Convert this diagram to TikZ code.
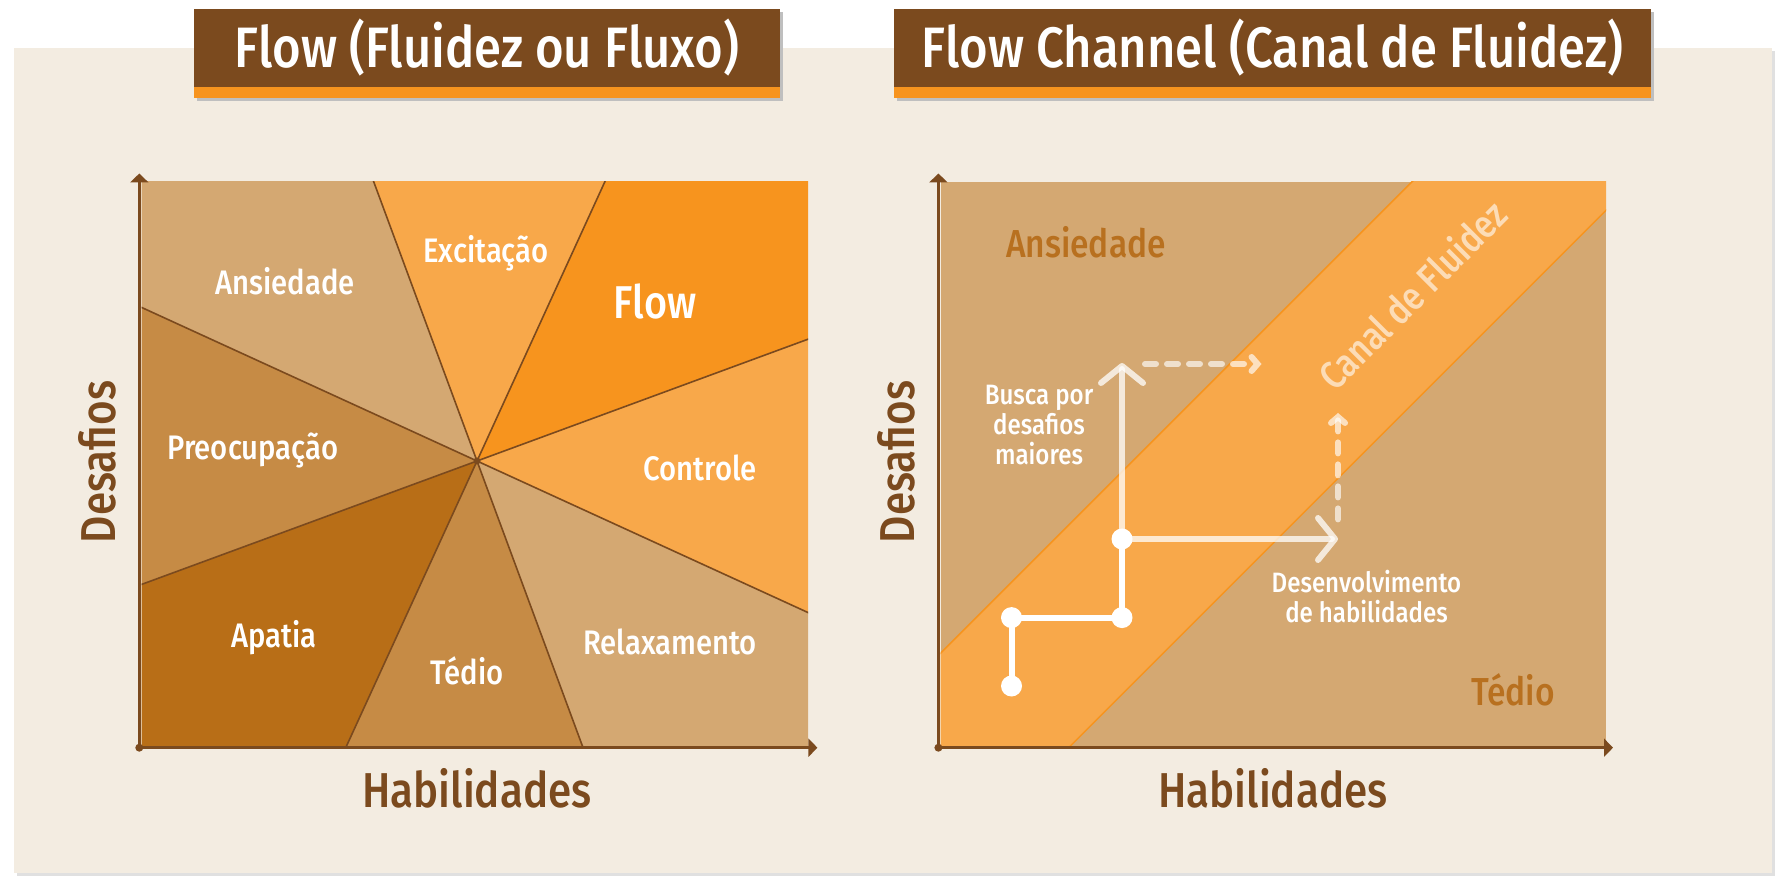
\documentclass[tikz,border=0pt]{standalone}
\usepackage{fontspec}
\setmainfont{Fira Sans Medium}[FakeStretch=0.86]
\usepackage{xcolor}
\usetikzlibrary{arrows.meta,positioning,backgrounds}

\definecolor{barbrown}{HTML}{7B4A1E}
\definecolor{barorange}{HTML}{F7941E}
\definecolor{panelbg}{HTML}{F3ECE1}
\definecolor{zonetan}{HTML}{D4A872}
\definecolor{zonelight}{HTML}{F8A84A}
\definecolor{zonemid}{HTML}{C68B45}
\definecolor{zonedark}{HTML}{B86E17}
\definecolor{zonetext}{HTML}{B8701F}

\tikzset{
  titlebox/.style={rectangle, fill=barbrown, text=white, inner sep=0pt,
    minimum height=78pt, font=\fontsize{57}{60}\selectfont},
  wedgelabel/.style={text=white, font=\fontsize{34}{40}\selectfont},
  zonelabel/.style={text=zonetext, font=\fontsize{39}{44}\selectfont},
  axislabel/.style={text=barbrown, font=\fontsize{49}{56}\selectfont},
  axisline/.style={draw=barbrown, line width=3pt, -{Triangle[length=9pt,width=18pt]}},
  sepline/.style={draw=barbrown, line width=1.6pt},
  dot/.style={circle, fill=white, inner sep=0pt, minimum size=21pt},
  route/.style={draw=white, line width=6pt, line cap=round, line join=round},
  routelabel/.style={text=white, align=center, font=\fontsize{28}{30}\selectfont},
}

\begin{document}
\begin{tikzpicture}[x=1pt, y=1pt]

    \useasboundingbox[fill=white] (0,0) rectangle (1790,892);

    % Panel
    \fill[black!12] (17,16) rectangle (1775,841);
    \fill[panelbg] (14,19) rectangle (1772,844);

    % Titles
    \fill[black!25] (197,791) rectangle (783,880);
    \node[titlebox, minimum width=586pt] (title1) at (487,844) {Flow (Fluidez ou Fluxo)};
    \fill[barorange] (title1.south west) rectangle ([yshift=-11pt]title1.south east);
    \fill[black!25] (897,791) rectangle (1654,880);
    \node[titlebox, minimum width=757pt] (title2) at (1272.5,844) {Flow Channel (Canal de Fluidez)};
    \fill[barorange] (title2.south west) rectangle ([yshift=-11pt]title2.south east);

    % Left chart: wedges
    \coordinate (c) at (477,431);
    \begin{scope}
      \clip (141.6,146.5) rectangle (808,710);
      \foreach \a/\b/\col in {110.3/155.4/zonetan, 65.4/110.3/zonelight, 20.2/65.4/barorange,
          -24.6/20.2/zonelight, -69.7/-24.6/zonetan, -114.6/-69.7/zonemid,
          -159.8/-114.6/zonedark, 155.4/200.2/zonemid}
        \fill[\col] (c) -- ([shift={(\a:1000pt)}]c) -- ([shift={(\b:1000pt)}]c) -- cycle;
      \foreach \a in {110.3, 65.4, 20.2, -24.6}
        \draw[sepline] ([shift={(\a:1000pt)}]c) -- ([shift={(\a+180:1000pt)}]c);
    \end{scope}
    \fill[barbrown] (c) circle (3.5pt);

    \node[wedgelabel] (ansiedade) at (285,611) {Ansiedade};
    \node[wedgelabel] (excitacao) at (486,639) {Excitação};
    \node[wedgelabel, font=\fontsize{46}{50}\selectfont] (flow) at (655,591) {Flow};
    \node[wedgelabel] (preocupacao) at (253,442) {Preocupação};
    \node[wedgelabel] (controle) at (700,424) {Controle};
    \node[wedgelabel] (apatia) at (274,254) {Apatia};
    \node[wedgelabel] (tedio) at (467,221) {Tédio};
    \node[wedgelabel] (relaxamento) at (670,250) {Relaxamento};

    % Left chart: axes
    \coordinate (o1) at (139.3,144.3);
    \coordinate (y1) at (139.3,718.5);
    \coordinate (x1) at (817.4,144.3);
    \draw[axisline] (o1) -- (y1);
    \draw[axisline] (o1) -- (x1);
    \fill[barbrown] (o1) circle (4pt);
    \node[axislabel] (hab1) at (477,104) {Habilidades};
    \node[axislabel, rotate=90] (des1) at (97,430) {Desafios};

    % Right chart: channel
    \begin{scope}
      \clip (940.7,146.5) rectangle (1606,710);
      \fill[zonetan] (940.7,146.5) rectangle (1606,710);
      \filldraw[fill=zonelight, draw=barorange, line width=1.5pt]
        (800,98.3) -- (1700,998.3) -- (1700,775.7) -- (800,-124.3) -- cycle;
    \end{scope}

    \node[zonelabel] (ansiedade2) at (1086,650) {Ansiedade};
    \node[zonelabel] (tedio2) at (1513,202.5) {Tédio};
    \node[zonelabel, text=white, opacity=0.6, rotate=45] (canal) at (1412,597.5) {Canal de Fluidez};

    % Right chart: route
    \node[dot] (s1) at (1011.5,206) {};
    \node[dot] (s2) at (1011.5,274.4) {};
    \node[dot] (s3) at (1122,274.4) {};
    \node[dot] (s4) at (1122,353) {};
    \coordinate (upTip) at (1122,529);
    \coordinate (rightTip) at (1338,353);
    \coordinate (dashA) at (1145,528);
    \coordinate (dashB) at (1261.5,528);
    \coordinate (dashC) at (1338,372.6);
    \coordinate (dashD) at (1338,479);
    \draw[route, draw opacity=0.75, -{Straight Barb[length=17pt,width=42pt,line cap=round,line join=round]}]
      (s4.center) -- (upTip);
    \draw[route, draw opacity=0.75, -{Straight Barb[length=17pt,width=42pt,line cap=round,line join=round]}]
      (s4.center) -- (rightTip);
    \draw[route, draw opacity=0.65, dash pattern=on 11pt off 11pt, -{Straight Barb[length=6pt,width=14pt,line cap=round]}]
      (dashA) -- (dashB);
    \draw[route, draw opacity=0.65, dash pattern=on 11pt off 11pt, -{Straight Barb[length=6pt,width=14pt,line cap=round]}]
      (dashC) -- (dashD);
    \draw[route] (s1.center) -- (s2.center) -- (s3.center) -- (s4.center);

    \node[routelabel] (busca) at (1039,467) {Busca por\\desafios\\maiores};
    \node[routelabel] (desenv) at (1366.5,295) {Desenvolvimento\\de habilidades};

    % Right chart: axes
    \coordinate (o2) at (938.4,144.3);
    \coordinate (y2) at (938.4,718.5);
    \coordinate (x2) at (1613,144.3);
    \draw[axisline] (o2) -- (y2);
    \draw[axisline] (o2) -- (x2);
    \fill[barbrown] (o2) circle (4pt);
    \node[axislabel] (hab2) at (1273,104) {Habilidades};
    \node[axislabel, rotate=90] (des2) at (896,430) {Desafios};

  \end{tikzpicture}
\end{document}
